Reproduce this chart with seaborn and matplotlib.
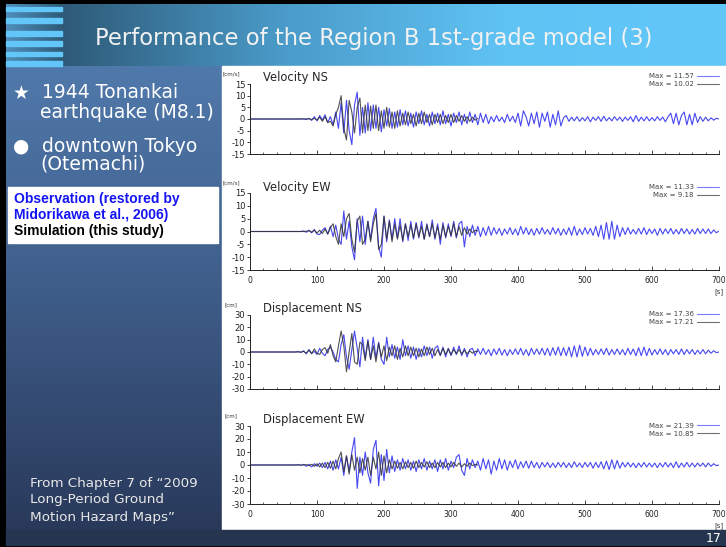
import numpy as np
import seaborn as sns
import matplotlib.pyplot as plt
from matplotlib.patches import Rectangle
from matplotlib.colors import LinearSegmentedColormap

# --- DATA: waveforms, one value every 4 s ---
DT = 4
t_obs = np.arange(0, 701, DT)   # observation runs to 700 s
t_sim = np.arange(0, 341, DT)   # simulation stops near 340 s

vel_ns_obs = [
    0, 0, 0, 0, 0, 0, 0, 0, 0, 0,
    0, 0, 0, 0, 0, 0, 0, 0, 0, 0,
    0.1, -0.2, 0.3, -0.6, 1.0, -0.8, 1.5, -0.4, 1.8, -1.5,
    1.0, -2.5, 3.0, -4.0, 7.0, -6.0, 8.0, -5.0, -11.0, 6.0,
    11.5, -7.0, 5.0, -6.0, 7.0, -5.0, 6.0, -4.0, 5.0, -5.5,
    4.0, -3.0, 4.5, -4.0, 3.0, -3.5, 4.0, -2.5, 3.5, -3.0,
    2.5, -3.5, 3.0, -2.0, 3.5, -2.5, 2.0, -3.0, 3.0, -2.0,
    2.5, -2.5, 3.5, -2.0, 2.0, -3.0, 2.5, -1.5, 3.0, -2.5,
    2.0, -2.0, 3.0, -1.5, 2.0, -2.5, 2.5, -1.5, 2.0, -2.0,
    1.0, -1.2, 1.5, -1.0, 0.8, -1.5, 2.0, -1.0, 1.2, -1.5,
    2.5, -3.0, 3.5, 1.0, -3.0, 2.5, -2.0, 3.0, -3.5, 2.5,
    -1.0, 3.0, -3.5, 2.0, -2.5, 3.5, -3.0, 0.5, 1.5, -1.0,
    0.8, -0.8, 1.0, -1.0, 0.6, -0.8, 1.0, -1.2, 0.8, -0.6,
    1.0, -1.0, 1.2, -0.8, 0.6, -0.8, 1.0, -0.6, 0.8, -1.0,
    0.8, -0.6, 1.0, -1.2, 1.5, -1.0, 0.8, -0.8, 1.0, -0.8,
    0.6, -0.8, 1.0, -0.6, 0.8, -1.2, 1.0, 2.5, -2.0, 2.5,
    -2.5, 1.5, 3.0, -2.5, 2.0, -2.5, 2.5, -1.5, 1.0, -1.0,
    0.8, -0.8, 0.5, -0.5, 0.3, 0.0,
]
vel_ns_sim = [
    0, 0, 0, 0, 0, 0, 0, 0, 0, 0,
    0, 0, 0, 0, 0, 0, 0, 0, 0, 0,
    0, 0, 0.1, -0.2, 0.3, -0.5, 0.8, -1.0, 1.0, -1.5,
    -1.0, -3.0, 2.0, 5.0, 10.0, -4.0, -9.0, 8.0, 3.0, -6.0,
    5.0, 9.0, -6.0, 6.0, -5.0, 5.5, -4.0, 6.0, -5.0, 3.5,
    -4.0, 5.0, -3.5, 3.0, -4.0, 3.5, -3.0, 2.5, -2.5, 3.0,
    -2.0, 2.0, -3.0, 2.5, -2.0, 3.0, -1.5, 2.0, -2.5, 2.0,
    -1.5, 2.0, -2.0, 1.5, -1.5, 2.0, -1.5, 1.5, -1.0, 1.5,
    -1.0, 1.0, -1.0, 0.8, -0.5, 0.3,
]

vel_ew_obs = [
    0, 0, 0, 0, 0, 0, 0, 0, 0, 0,
    0, 0, 0, 0, 0, 0, 0, 0, 0, 0,
    0.2, -0.3, 0.5, -0.5, 0.8, -1.0, -1.2, 0.5, 1.5, -1.0,
    2.0, -2.0, 2.5, -3.0, -5.0, 8.0, -3.0, 4.0, -6.0, -11.0,
    5.0, -4.0, 6.0, -5.0, 4.0, -3.0, 5.0, 9.0, -6.0, -10.0,
    6.0, -4.0, 4.5, -3.0, 5.0, -2.5, 5.0, -4.0, 3.0, -3.5,
    4.0, -3.0, 3.5, -2.5, 4.0, -3.0, 3.0, -2.0, 4.5, -3.0,
    3.0, -5.0, 3.5, -2.5, 3.0, -2.0, 4.0, -2.5, 3.0, 4.0,
    -6.0, 2.0, -2.0, 2.5, -1.5, 2.0, -2.0, 1.5, -1.5, 2.0,
    -1.5, 1.5, -1.0, 1.2, -1.5, 1.0, -1.0, 1.5, -1.2, 1.0,
    -1.5, 2.0, -1.0, 1.5, -1.2, 1.0, -1.5, 1.2, -1.0, 1.5,
    -1.0, 0.8, -1.2, 1.5, -1.0, 1.2, -1.5, 1.0, -1.2, 1.5,
    -1.5, 2.0, -1.5, 1.0, -1.2, 1.5, -1.0, 1.2, -1.5, 2.0,
    -2.0, 2.5, -3.0, 3.5, -3.0, 4.0, -3.0, 2.5, -2.0, 1.5,
    -1.2, 1.5, -1.0, 0.8, -1.0, 1.2, -1.0, 1.5, -1.2, 1.0,
    -0.8, 1.0, -1.5, 1.2, -1.0, 1.0, -0.8, 1.2, -1.0, 0.8,
    -1.0, 1.2, -0.8, 1.0, -1.0, 0.8, -1.0, 1.2, -0.8, 1.0,
    -0.8, 1.0, -0.8, 0.6, -0.5, 0.2,
]
vel_ew_sim = [
    0, 0, 0, 0, 0, 0, 0, 0, 0, 0,
    0, 0, 0, 0, 0, 0, 0, 0, 0, 0,
    0, 0.1, 0.3, -0.3, 0.5, -0.6, 0.5, -0.8, 1.0, -1.0,
    1.5, 3.0, -2.0, -5.0, 3.0, -2.0, 5.0, 7.0, -3.0, -8.0,
    4.0, 6.0, -5.0, -3.0, 4.0, -4.0, 3.0, 7.0, -7.0, -5.0,
    6.0, -3.0, 4.0, -4.0, 3.0, -3.0, 2.5, -3.5, 3.0, -2.0,
    2.5, -2.5, 3.0, -2.0, 2.0, -3.0, 2.5, -2.0, 3.0, -2.5,
    2.0, -3.0, 2.5, -2.0, 2.0, -1.5, 3.0, -2.0, 2.0, -1.5,
    1.5, -1.0, 1.0, -0.5, 0.5, 0.2,
]

dis_ns_obs = [
    0, 0, 0, 0, 0, 0, 0, 0, 0, 0,
    0, 0, 0, 0, 0, 0, 0, 0, 0.5, -0.5,
    1.0, -1.5, 2.0, -1.0, 0.5, -2.0, 3.0, -1.0, -3.0, 2.0,
    4.0, 0.0, -6.0, -8.0, 6.0, 14.0, -4.0, -14.0, 2.0, 17.0,
    3.0, -12.0, 12.0, -5.0, 10.0, -6.0, 12.0, -5.0, 8.0, -6.0,
    -10.0, 12.0, -4.0, 6.0, -5.0, 4.0, -6.0, 10.0, -3.0, 5.0,
    -5.0, 4.0, -6.0, 3.0, -4.0, 5.0, -3.0, 4.0, -5.0, 3.0,
    5.0, -3.0, 4.0, -4.0, 3.0, -3.0, 4.0, -2.0, 5.0, -3.0,
    3.0, -4.0, 2.0, 3.0, -3.0, 2.5, -2.0, 3.0, -2.0, 2.0,
    -3.0, 2.5, -2.0, 3.0, -2.5, 2.0, -3.0, 2.0, -2.0, 2.5,
    -2.0, 3.0, -2.5, 2.0, -3.0, 3.0, -2.0, 2.5, -2.0, 3.0,
    -2.5, 3.0, -3.0, 3.5, -2.5, 4.0, -3.0, 3.5, -3.0, 4.0,
    -4.0, 5.0, -4.0, 5.5, -3.5, 4.0, -3.0, 3.0, -2.5, 2.0,
    -2.0, 2.5, -2.0, 3.0, -2.5, 2.0, -2.0, 2.5, -2.0, 2.0,
    -2.5, 3.0, -2.0, 2.5, -3.0, 3.5, -3.0, 4.0, -3.0, 3.0,
    -2.5, 2.0, -2.0, 2.5, -2.0, 2.0, -2.5, 2.0, -1.5, 2.0,
    -2.0, 2.5, -2.0, 2.0, -1.5, 2.0, -2.0, 1.5, -1.5, 2.0,
    -1.5, 1.5, -1.0, 1.0, -0.5, 0.0,
]
dis_ns_sim = [
    0, 0, 0, 0, 0, 0, 0, 0, 0, 0,
    0, 0, 0, 0, 0, 0, 0, 0, 0, 0,
    0.5, -1.0, 1.5, -1.5, 2.5, -1.0, -2.0, 2.0, 3.5, -1.0,
    6.0, -3.0, -8.0, 5.0, 17.0, 5.0, -16.0, 0.0, 15.0, -8.0,
    -10.0, 8.0, 6.0, -7.0, 9.0, -6.0, 5.0, -8.0, 7.0, -4.0,
    5.0, -7.0, 4.0, -3.0, 5.0, -6.0, 3.0, -4.0, 5.0, -3.0,
    4.0, -3.0, 3.0, -4.0, 2.5, -3.0, 4.0, -2.0, 3.0, -3.0,
    2.0, -2.5, 3.0, -2.0, 2.5, -2.0, 2.0, -1.5, 2.0, -1.5,
    1.5, -1.5, 1.0, -1.0, 0.5, 0.3,
]

dis_ew_obs = [
    0, 0, 0, 0, 0, 0, 0, 0, 0, 0,
    0, 0, 0, 0, 0, 0, 0, 0, 0.3, -0.3,
    0.5, -1.0, 0.5, -1.5, 1.0, -1.0, 1.5, -2.0, 2.0, -3.0,
    3.0, -4.0, 4.0, -3.0, 6.0, -8.0, 7.0, -5.0, 10.0, 21.0,
    -18.0, 6.0, -8.0, 10.0, -6.0, -14.0, 12.0, 19.0, -16.0, 8.0,
    -12.0, 12.0, -6.0, 7.0, -5.0, 4.0, -4.0, 5.0, -3.0, 4.0,
    -4.0, 3.0, -5.0, 4.0, -3.0, 5.0, -4.0, 3.0, -3.0, 4.0,
    -5.0, 4.0, -3.0, 5.0, -4.0, 3.0, -2.0, 6.0, 8.0, -4.0,
    -8.0, 5.0, -3.0, 4.0, -2.0, 3.0, -4.0, 5.0, -3.0, 4.0,
    -7.0, 3.0, -4.0, 5.0, -3.0, 4.0, -4.0, 3.0, -2.0, 4.0,
    -3.0, 2.5, -2.0, 3.0, -2.5, 3.0, -2.0, 2.0, -2.5, 2.0,
    -1.5, 2.0, -2.0, 1.5, -2.0, 2.0, -1.5, 2.0, -2.0, 1.5,
    -2.0, 2.5, -1.5, 1.5, -2.0, 2.0, -1.5, 2.0, -2.5, 2.0,
    -2.0, 2.5, -3.0, 3.0, -3.5, 4.0, -3.0, 3.5, -2.5, 2.0,
    -1.5, 2.0, -1.5, 1.5, -2.0, 1.5, -1.5, 2.0, -1.5, 1.5,
    -1.5, 1.5, -2.0, 1.5, -1.5, 2.0, -1.5, 1.5, -2.0, 2.5,
    -2.0, 1.5, -1.5, 2.0, -1.5, 1.5, -1.5, 1.5, -1.0, 1.5,
    -1.5, 1.5, -1.0, 1.0, -0.5, 0.0,
]
dis_ew_sim = [
    0, 0, 0, 0, 0, 0, 0, 0, 0, 0,
    0, 0, 0, 0, 0, 0, 0, 0, 0, 0,
    0, 0.3, -0.5, 0.5, -1.0, 1.0, -1.5, 1.5, -2.0, 2.0,
    -2.5, 3.0, -3.0, 5.0, 10.0, -5.0, 7.0, -7.0, 8.0, -4.0,
    6.0, -6.0, 5.0, -4.0, 6.0, -8.0, 6.0, -3.0, 10.0, -8.0,
    7.0, -6.0, 4.0, -3.0, 3.0, -2.5, 2.0, -3.0, 2.5, -2.0,
    2.0, -2.5, 3.0, -2.0, 2.0, -1.5, 2.5, -2.0, 1.5, -2.0,
    2.0, -1.5, 2.0, -2.0, 1.5, -1.5, 2.0, -1.0, 1.5, -1.5,
    1.0, -1.0, 1.5, -0.5, 0.5, 0.0,
]

panel_titles = ["Velocity NS", "Velocity EW", "Displacement NS", "Displacement EW"]
panel_units = ["[cm/s]", "[cm/s]", "[cm]", "[cm]"]
max_obs = ["11.57", "11.33", "17.36", "21.39"]
max_sim = ["10.02", "9.18", "17.21", "10.85"]
x_ticks = [0, 100, 200, 300, 400, 500, 600, 700]

W, H = 726, 547
OBS_COLOR = "#4848f0"
SIM_COLOR = "#333333"


def gradient(ax, x0, x1, y0, y1, colors, horizontal=True):
    cmap = LinearSegmentedColormap.from_list("g", colors)
    ramp = np.linspace(0, 1, 256)
    img = ramp.reshape(1, -1) if horizontal else ramp.reshape(-1, 1)
    ax.imshow(img, cmap=cmap, aspect="auto", extent=(x0, x1, y1, y0),
              interpolation="bilinear", zorder=1)


def draw_slide(bg):
    # slide frame, title bar, left panel and white chart area (pixel coords)
    bg.add_patch(Rectangle((0, 0), W, H, color="black", zorder=0))
    gradient(bg, 62, W, 4, 66, ["#2e5a78", "#4a9bc9", "#5fc3f4", "#62c7f9"])
    gradient(bg, 6, 62, 4, 66, ["#4f8fbb", "#2e5a78"])
    for y0, y1 in [(7, 11), (18, 23), (31, 36), (41, 46), (52, 56), (61, 66)]:
        bg.add_patch(Rectangle((6, y0), 56, y1 - y0, color="#62c6f8", zorder=2))
    gradient(bg, 6, 222, 66, 530, ["#5079ab", "#3e5c88", "#29395a"], horizontal=False)
    bg.add_patch(Rectangle((222, 66), W - 222, 464, color="white", zorder=2))
    bg.add_patch(Rectangle((6, 530), W - 6, 15, color="#26354f", zorder=2))
    bg.add_patch(Rectangle((8, 187), 210, 56, color="white", zorder=3))

    bg.text(95, 38, "Performance of the Region B 1st-grade model (3)",
            color="#f2f2f2", fontsize=16.3, va="center", ha="left", zorder=4)

    big = dict(color="white", fontsize=13.5, va="center", ha="left", zorder=4)
    bg.text(13, 93, "\u2605", **big)
    bg.text(42, 93, "1944 Tonankai", **big)
    bg.text(40, 112, "earthquake (M8.1)", **big)
    bg.text(13, 146, "\u25cf", **big)
    bg.text(42, 146, "downtown Tokyo", **big)
    bg.text(40, 164, "(Otemachi)", **big)

    box = dict(fontsize=10, fontweight="bold", family="Liberation Sans",
               va="center", ha="left", zorder=4)
    bg.text(14, 199, "Observation (restored by", color="#1414f5", **box)
    bg.text(14, 215, "Midorikawa et al., 2006)", color="#1414f5", **box)
    bg.text(14, 231, "Simulation (this study)", color="black", **box)

    small = dict(color="#e8e8e8", fontsize=9.7, va="center", ha="left", zorder=4)
    bg.text(30, 483, "From Chapter 7 of \u201c2009", **small)
    bg.text(30, 500, "Long-Period Ground", **small)
    bg.text(30, 517, "Motion Hazard Maps\u201d", **small)

    bg.text(714, 539, "17", color="white", fontsize=9, va="center", ha="center", zorder=4)

    bg.set_xlim(0, W)
    bg.set_ylim(H, 0)
    bg.axis("off")


def draw_panel(fig, i, top, bottom, obs, sim, ylim, ystep, show_x, legend_y):
    left, right = 250, 719
    ax = fig.add_axes([left / W, 1 - bottom / H, (right - left) / W, (bottom - top) / H])
    ax.set_facecolor("none")

    sns.lineplot(x=t_obs, y=obs, ax=ax, color=OBS_COLOR, linewidth=0.8,
                 estimator=None, label="Max = " + max_obs[i])
    sns.lineplot(x=t_sim, y=sim, ax=ax, color=SIM_COLOR, linewidth=0.8, alpha=0.85,
                 estimator=None, label="Max = " + max_sim[i])

    ax.set_xlim(0, 700)
    ax.set_ylim(-ylim, ylim)
    ax.set_yticks(np.arange(-ylim, ylim + 1, ystep))
    ax.set_xticks(x_ticks)
    ax.set_xticks(np.arange(0, 701, 20), minor=True)
    ax.tick_params(axis="x", which="major", direction="in", length=3, width=0.6,
                   labelsize=5.5, labelcolor="#222222", pad=4)
    ax.tick_params(axis="x", which="minor", direction="in", length=1.5, width=0.5)
    ax.tick_params(axis="y", direction="out", length=2, width=0.6,
                   labelsize=6, labelcolor="#222222", pad=1.5)
    if not show_x:
        ax.set_xticklabels([])
    ax.set_xlabel("")
    ax.set_ylabel("")
    sns.despine(ax=ax)
    for side in ["left", "bottom"]:
        ax.spines[side].set_linewidth(0.7)
        ax.spines[side].set_color("#222222")

    leg = ax.legend(loc="upper right", bbox_to_anchor=(1.008, legend_y), frameon=False,
                    markerfirst=False, fontsize=5, handlelength=3.2, handletextpad=0.5,
                    labelspacing=0.25, borderpad=0)
    leg.get_lines()[0].set_color("#7a7aff")
    leg.get_lines()[1].set_color("#555555")
    for txt in leg.get_texts():
        txt.set_color("#444444")

    # panel name, unit and seconds label (offsets in pixels above the axes top)
    ax.text(0.028, (bottom - (top - 6)) / (bottom - top), panel_titles[i],
            transform=ax.transAxes, fontsize=8.3, va="center", ha="left")
    ax.text(-0.04, (bottom - (top - 10)) / (bottom - top), panel_units[i],
            transform=ax.transAxes, fontsize=4, va="center", ha="center", color="#333333")
    if show_x:
        ax.text(1.0, -22.0 / (bottom - top), "[s]", transform=ax.transAxes, fontsize=5,
                va="center", ha="center", color="#333333")
    return ax


def main():
    sns.set_theme(style="ticks")
    plt.rcParams["font.family"] = ["DejaVu Sans"]
    plt.rcParams["axes.unicode_minus"] = False

    fig = plt.figure(figsize=(W / 100, H / 100), dpi=100)
    bg = fig.add_axes([0, 0, 1, 1])
    draw_slide(bg)

    draw_panel(fig, 0, 84, 154, vel_ns_obs, vel_ns_sim, 15, 5, False, 1.2)
    draw_panel(fig, 1, 193, 270, vel_ew_obs, vel_ew_sim, 15, 5, True, 1.156)
    draw_panel(fig, 2, 315, 389, dis_ns_obs, dis_ns_sim, 30, 10, False, 1.095)
    draw_panel(fig, 3, 426, 504, dis_ew_obs, dis_ew_sim, 30, 10, True, 1.086)

    fig.savefig("out.png", dpi=100)
    plt.close(fig)


if __name__ == "__main__":
    main()
